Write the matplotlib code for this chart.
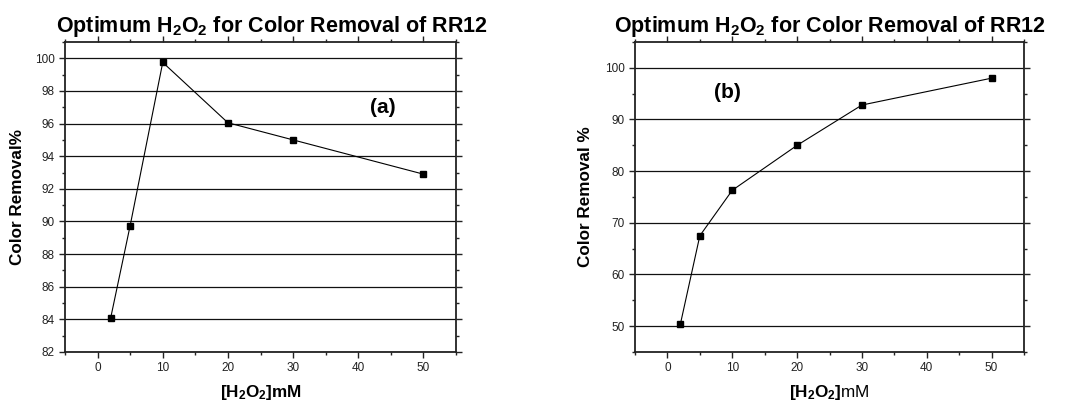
import numpy as np
import matplotlib.pyplot as plt
from matplotlib.ticker import MultipleLocator

plt.rcParams["font.family"] = ["Liberation Sans", "DejaVu Sans"]
plt.rcParams["mathtext.fontset"] = "custom"
plt.rcParams["mathtext.rm"] = "Liberation Sans"
plt.rcParams["mathtext.bf"] = "Liberation Sans:bold"
plt.rcParams["mathtext.it"] = "Liberation Sans:italic"

# H2O2 dose (mM) and colour removal (%) for the two runs
h2o2_mm = [2, 5, 10, 20, 30, 50]
removal_a = [84.07, 89.75, 99.75, 96.05, 95.0, 92.9]
removal_b = [50.4, 67.5, 76.3, 85.0, 92.8, 98.0]

title = r"Optimum H$_\mathbf{2}$O$_\mathbf{2}$ for Color Removal of RR12"

fig = plt.figure(figsize=(10.67, 4.01), dpi=100)
ax1 = fig.add_axes([65 / 1067, 1 - 352 / 401, 391 / 1067, 310 / 401])
ax2 = fig.add_axes([635 / 1067, 1 - 352 / 401, 389 / 1067, 310 / 401])


def style(ax, ylim, major, minor):
    ax.set_xlim(-5, 55)
    ax.set_ylim(*ylim)
    ax.xaxis.set_major_locator(MultipleLocator(10))
    ax.xaxis.set_minor_locator(MultipleLocator(5))
    ax.yaxis.set_major_locator(MultipleLocator(major))
    ax.yaxis.set_minor_locator(MultipleLocator(minor))
    ax.tick_params(which="both", direction="out", top=True, right=True,
                   labelsize=8.5, colors="#222222", width=1)
    ax.tick_params(which="major", length=4)
    ax.tick_params(which="minor", length=2.5)
    ax.yaxis.grid(True, which="major", color="#111111", lw=0.9)
    ax.set_axisbelow(True)
    for s in ax.spines.values():
        s.set_linewidth(1.3)
        s.set_color("#222222")


# panel (a)
ax1.plot(h2o2_mm, removal_a, "k-", lw=0.8, marker="s", ms=4.5)
style(ax1, (82, 101), 2, 1)
ax1.set_title(title, fontsize=15.5, fontweight="bold", pad=7, x=0.53)
ax1.set_ylabel("Color Removal%", fontsize=12.3, fontweight="bold", va="center")
ax1.yaxis.set_label_coords(-0.121, 0.5)
ax1.set_xlabel(r"$\mathbf{[H_2O_2]mM}$", fontsize=12.3, va="center")
ax1.xaxis.set_label_coords(0.5, -0.13)
ax1.text(43.7, 97.0, "(a)", fontsize=15, fontweight="bold", ha="center", va="center")

# panel (b)
ax2.plot(h2o2_mm, removal_b, "k-", lw=0.8, marker="s", ms=4.5)
style(ax2, (45, 105), 10, 5)
ax2.set_title(title, fontsize=15.5, fontweight="bold", pad=7)
ax2.set_ylabel("Color Removal %", fontsize=12.3, fontweight="bold", va="center")
ax2.yaxis.set_label_coords(-0.126, 0.5)
ax2.set_xlabel(r"$\mathbf{[H_2O_2]}$mM", fontsize=12.3, va="center")
ax2.xaxis.set_label_coords(0.5, -0.13)
ax2.text(9.2, 95.2, "(b)", fontsize=15, fontweight="bold", ha="center", va="center")

fig.savefig("out.png", dpi=100)
